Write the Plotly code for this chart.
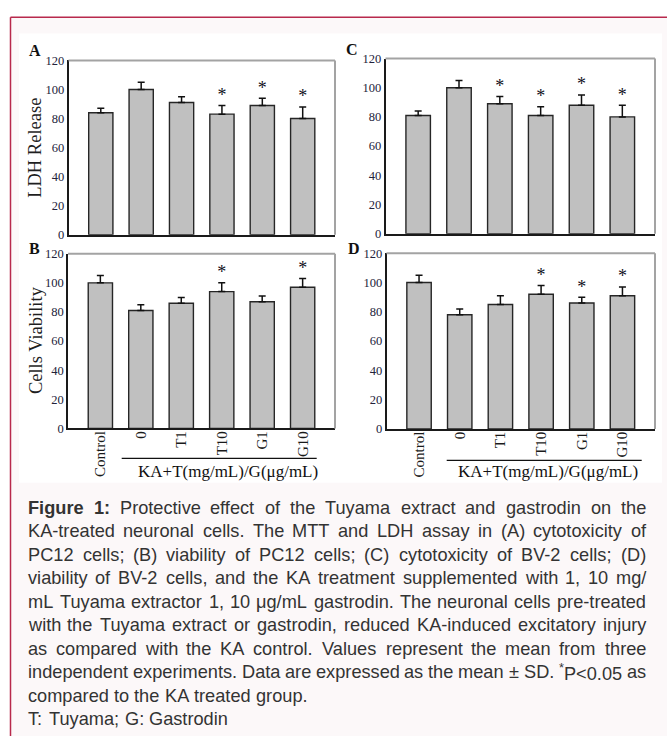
import re
import plotly.graph_objects as go

# ---------------- data ----------------
categories = ["Control", "0", "T1", "T10", "G1", "G10"]

ldh_pc12 = [84, 100, 91, 83, 89, 80]
ldh_pc12_sd = [3, 5, 4, 6, 5, 8]
ldh_pc12_sig = [False, False, False, True, True, True]

viab_pc12 = [100, 81, 86, 94, 87, 97]
viab_pc12_sd = [5, 4, 4, 6, 4, 6]
viab_pc12_sig = [False, False, False, True, False, True]

ldh_bv2 = [81, 100, 89, 81, 88, 80]
ldh_bv2_sd = [3, 5, 5, 6, 7, 8]
ldh_bv2_sig = [False, False, True, True, True, True]

viab_bv2 = [100, 78, 85, 92, 86, 91]
viab_bv2_sd = [5, 4, 6, 6, 4, 6]
viab_bv2_sig = [False, False, False, True, True, True]

y_ticks = [0, 20, 40, 60, 80, 100, 120]
group_label = "KA+T(mg/mL)/G(μg/mL)"

caption_lines = [
    ("<b>Figure</b> <b>1:</b> Protective effect of the Tuyama extract and gastrodin on the", True),
    ("KA-treated neuronal cells. The MTT and LDH assay in (A) cytotoxicity of", True),
    ("PC12 cells; (B) viability of PC12 cells; (C) cytotoxicity of BV-2 cells; (D)", True),
    ("viability of BV-2 cells, and the KA treatment supplemented with 1, 10 mg/", True),
    ("mL Tuyama extractor 1, 10 μg/mL gastrodin. The neuronal cells pre-treated", True),
    ("with the Tuyama extract or gastrodin, reduced KA-induced excitatory injury", True),
    ("as compared with the KA control. Values represent the mean from three", True),
    ("independent experiments. Data are expressed as the mean ± SD. <sup>*</sup>P&lt;0.05 as", True),
    ("compared to the KA treated group.", False),
    ("T: Tuyama; G: Gastrodin", False),
]

# ---------------- geometry helpers ----------------
W, H = 667, 743


def px(x):
    return x / W


def py(y):
    return 1 - y / H


SERIF = "Liberation Serif, Times New Roman, serif"
SANS = "Liberation Sans, Arial, sans-serif"

panels = [
    # (values, sd, sig, xaxis id, yaxis id, x-domain px, y-domain px, show x labels)
    (ldh_pc12, ldh_pc12_sd, ldh_pc12_sig, "x", "y", (68.5, 335), (54.5, 232), False),
    (ldh_bv2, ldh_bv2_sd, ldh_bv2_sig, "x2", "y2", (385.5, 655), (52.5, 231), False),
    (viab_pc12, viab_pc12_sd, viab_pc12_sig, "x3", "y3", (68, 335), (251.5, 429.5), True),
    (viab_bv2, viab_bv2_sd, viab_bv2_sig, "x4", "y4", (386.5, 655), (251, 430), True),
]

fig = go.Figure()
layout_axes = {}
shapes = [
    # pink page panel
    dict(type="rect", xref="paper", yref="paper", x0=px(10.5), x1=1, y0=py(10.5), y1=0,
         fillcolor="#fcf8f9", line=dict(width=0), layer="below"),
    # crimson frame, top and left edges
    dict(type="line", xref="paper", yref="paper", x0=px(10.5), x1=1, y0=py(10.5), y1=py(10.5),
         line=dict(color="#b8294c", width=1.5), layer="below"),
    dict(type="line", xref="paper", yref="paper", x0=px(10.5), x1=px(10.5), y0=py(10.5), y1=0,
         line=dict(color="#b8294c", width=1.5), layer="below"),
    # white figure image area
    dict(type="rect", xref="paper", yref="paper", x0=px(19), x1=px(662), y0=py(27), y1=py(485),
         fillcolor="#ffffff", line=dict(width=0), layer="below"),
]

for vals, sd, sig, xa, ya, xd, yd, showx in panels:
    fig.add_trace(go.Bar(
        x=categories, y=vals, width=0.6,
        marker=dict(color="#c0c0c0", line=dict(color="#262626", width=1.4)),
        error_y=dict(type="data", symmetric=False, array=sd, arrayminus=[0] * len(sd),
                     color="#111111", thickness=1.5, width=3.5),
        xaxis=xa, yaxis=ya, hoverinfo="skip",
    ))
    sx = [c for c, s in zip(categories, sig) if s]
    sy = [v + e for v, e, s in zip(vals, sd, sig) if s]
    fig.add_trace(go.Scatter(
        x=sx, y=sy, mode="text", text=["*"] * len(sx), textposition="top center",
        textfont=dict(family=SERIF, size=18, color="#111122"),
        xaxis=xa, yaxis=ya, hoverinfo="skip",
    ))
    xkey = "xaxis" + xa[1:]
    ykey = "yaxis" + ya[1:]
    layout_axes[xkey] = dict(
        domain=[px(xd[0]), px(xd[1])], anchor=ya, type="category",
        range=[-0.8, 5.8], showline=True, linecolor="#1a1a1a", linewidth=1.5,
        showgrid=False, zeroline=False, ticks="", showticklabels=showx,
        tickangle=-90, ticklabelstandoff=-5,
        tickfont=dict(family=SERIF, size=15, color="#1a1a1a"),
        fixedrange=True,
    )
    layout_axes[ykey] = dict(
        domain=[py(yd[1]), py(yd[0])], anchor=xa, range=[0, 120],
        tickmode="array", tickvals=y_ticks, ticktext=[str(t) for t in y_ticks],
        showline=True, linecolor="#1a1a1a", linewidth=1.5, showgrid=False,
        zeroline=False, ticks="", tickfont=dict(family=SERIF, size=12.5, color="#22223a"),
        fixedrange=True,
    )
    # grey top and right frame lines
    shapes.append(dict(type="line", xref=xa + " domain", yref=ya + " domain", x0=0, x1=1, y0=1, y1=1,
                       line=dict(color="#a3a3a3", width=2)))
    shapes.append(dict(type="line", xref=xa + " domain", yref=ya + " domain", x0=1, x1=1, y0=0, y1=1,
                       line=dict(color="#a3a3a3", width=2)))

annotations = []
# panel letters
for letter, (lx, ly) in zip(["A", "C", "B", "D"], [(35, 44), (352, 43.5), (34, 246), (353.5, 246)]):
    annotations.append(dict(text="<b>%s</b>" % letter, x=px(lx), y=py(ly), xref="paper", yref="paper",
                            showarrow=False, xanchor="center", yanchor="middle",
                            font=dict(family=SERIF, size=16, color="#111111")))
# y-axis titles
for title, (tx, ty) in [("LDH Release", (35.5, 144)), ("Cells Viability", (35.5, 340))]:
    annotations.append(dict(text=title, x=px(tx), y=py(ty), xref="paper", yref="paper", textangle=-90,
                            showarrow=False, xanchor="center", yanchor="middle",
                            font=dict(family=SERIF, size=18.5, color="#1f1f1f")))
# group labels with rule lines
for (l0, l1, ly), (cx, cy) in [((121.7, 316.7, 460), (228, 473)), ((446.7, 641.7, 462), (547.5, 473))]:
    shapes.append(dict(type="line", xref="paper", yref="paper", x0=px(l0), x1=px(l1), y0=py(ly), y1=py(ly),
                       line=dict(color="#111111", width=1.3)))
    annotations.append(dict(text=group_label, x=px(cx), y=py(cy), xref="paper", yref="paper",
                            showarrow=False, xanchor="center", yanchor="middle",
                            font=dict(family=SERIF, size=17, color="#111111")))

# ---------------- caption (justified, word by word) ----------------
REG = {' ': 278, '(': 333, ')': 333, '*': 389, '+': 584, ',': 278, '-': 333, '.': 278, '/': 278,
       ':': 278, ';': 278, '<': 584, '±': 584, 'μ': 576,
       'A': 667, 'B': 667, 'C': 722, 'D': 722, 'E': 667, 'F': 611, 'G': 778, 'H': 722, 'I': 278,
       'J': 500, 'K': 667, 'L': 556, 'M': 833, 'N': 722, 'O': 778, 'P': 667, 'Q': 778, 'R': 722,
       'S': 667, 'T': 611, 'U': 722, 'V': 667, 'W': 944, 'X': 667, 'Y': 667, 'Z': 611,
       'a': 556, 'b': 556, 'c': 500, 'd': 556, 'e': 556, 'f': 278, 'g': 556, 'h': 556, 'i': 222,
       'j': 222, 'k': 500, 'l': 222, 'm': 833, 'n': 556, 'o': 556, 'p': 556, 'q': 556, 'r': 333,
       's': 500, 't': 278, 'u': 556, 'v': 500, 'w': 722, 'x': 500, 'y': 500, 'z': 500}
BOLD = {'F': 611, 'i': 278, 'g': 611, 'u': 611, 'r': 389, 'e': 556, '1': 556, ':': 333}

CAP_SIZE = 18.2
CAP_X0, CAP_X1 = 27, 645


def word_width(html):
    bold = "<b>" in html
    sups = re.findall(r"<sup>(.*?)</sup>", html)
    rest = re.sub(r"<sup>.*?</sup>", "", html)
    rest = re.sub(r"<[^>]+>", "", rest).replace("&lt;", "<")
    tot = 0.0
    for ch in rest:
        tot += (BOLD.get(ch, 600) if bold else REG.get(ch, 556))
    for s in sups:
        for ch in s:
            tot += REG.get(ch, 556) * 0.7
    return tot * CAP_SIZE / 1000


for k, (line, justify) in enumerate(caption_lines):
    words = line.split(" ")
    widths = [word_width(w) for w in words]
    if justify and len(words) > 1:
        gap = (CAP_X1 - CAP_X0 - sum(widths)) / (len(words) - 1)
    else:
        gap = 278 * CAP_SIZE / 1000
    yc = 510.6 + 23.9 * k
    x = CAP_X0
    for w, ww in zip(words, widths):
        annotations.append(dict(text=w, x=px(x), y=py(yc), xref="paper", yref="paper",
                                showarrow=False, xanchor="left", yanchor="middle", borderpad=0,
                                font=dict(family=SANS, size=CAP_SIZE, color="#333333")))
        x += ww + gap

fig.update_layout(
    width=W, height=H, margin=dict(l=0, r=0, t=0, b=0),
    paper_bgcolor="#ffffff", plot_bgcolor="rgba(0,0,0,0)",
    showlegend=False, bargap=0.4,
    shapes=shapes, annotations=annotations,
    **layout_axes,
)

fig.write_html(
    "out.html",
    config={"displayModeBar": False},
    post_script="document.body.style.margin='0';document.body.style.padding='0';",
)
